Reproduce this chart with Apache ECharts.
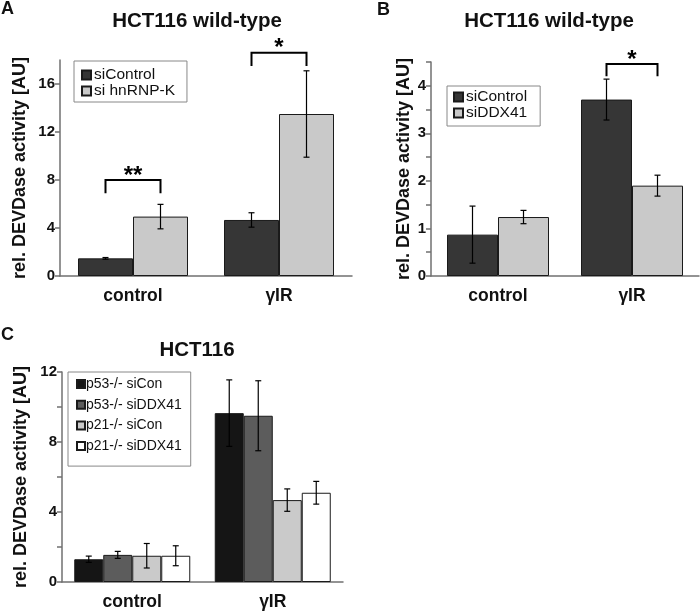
<!DOCTYPE html>
<html><head><meta charset="utf-8">
<script src="https://cdn.jsdelivr.net/npm/echarts@6/dist/echarts.min.js"></script>
<style>html,body{margin:0;padding:0;background:#fff}#c{width:700px;height:613px}</style>
</head><body><div id="c"></div>
<script>
// ---- data ----
const categories = ['control', 'γIR'];
// Panel A
const aSiControl = [1.47, 4.67];
const aSiControlErr = [0.07, 0.6];
const aHnRNPK = [4.95, 13.5];
const aHnRNPKErr = [1.02, 3.6];
const aSig = [[0, 8, 6.9, '**'], [1, 18.6, 17.5, '*']];
const aTicks = [0, 4, 8, 12, 16];
// Panel B
const bSiControl = [0.87, 3.71];
const bSiControlErr = [0.6, 0.43];
const bSiDDX41 = [1.24, 1.9];
const bSiDDX41Err = [0.14, 0.22];
const bSig = [[1, 4.46, 4.2, '*']];
const bTicks = [0, 0.5, 1, 1.5, 2, 2.5, 3, 3.5, 4, 4.5];
const bLabels = [0, 1, 2, 3, 4];
// Panel C
const cP53SiCon = [1.3, 9.65];
const cP53SiConErr = [0.18, 1.9];
const cP53SiDDX41 = [1.55, 9.5];
const cP53SiDDX41Err = [0.2, 2.0];
const cP21SiCon = [1.5, 4.68];
const cP21SiConErr = [0.7, 0.64];
const cP21SiDDX41 = [1.5, 5.1];
const cP21SiDDX41Err = [0.57, 0.65];
const cTicks = [0, 2, 4, 6, 8, 10, 12];
const cLabels = [0, 4, 8, 12];

const FONT = '"Liberation Sans", Arial, sans-serif';
const yName = 'rel. DEVDase activity [AU]';

function errData(sets) {
  const out = [];
  sets.forEach((s, si) => s[0].forEach((v, ci) => out.push([ci, v, s[1][ci], si])));
  return out;
}
function errSeries(idx, sets, barW) {
  const n = sets.length;
  return {
    type: 'custom', xAxisIndex: idx, yAxisIndex: idx, z: 10, silent: true,
    data: errData(sets),
    renderItem: function (params, api) {
      const c = api.value(0), m = api.value(1), e = api.value(2), s = api.value(3);
      const hi = api.coord([c, m + e]), lo = api.coord([c, m - e]);
      const x = hi[0] + (s - (n - 1) / 2) * barW;
      const st = { stroke: '#000', lineWidth: 1.2 };
      return { type: 'group', children: [
        { type: 'line', shape: { x1: x, y1: hi[1], x2: x, y2: lo[1] }, style: st },
        { type: 'line', shape: { x1: x - 3, y1: hi[1], x2: x + 3, y2: hi[1] }, style: st },
        { type: 'line', shape: { x1: x - 3, y1: lo[1], x2: x + 3, y2: lo[1] }, style: st }
      ]};
    }
  };
}
function sigSeries(idx, sig, barW) {
  return {
    type: 'custom', xAxisIndex: idx, yAxisIndex: idx, z: 10, silent: true, clip: false,
    data: sig,
    renderItem: function (params, api) {
      const c = api.value(0);
      const top = api.coord([c, api.value(1)]), leg = api.coord([c, api.value(2)]);
      const x1 = top[0] - barW / 2, x2 = top[0] + barW / 2;
      return { type: 'group', children: [
        { type: 'polyline', shape: { points: [[x1, leg[1]], [x1, top[1]], [x2, top[1]], [x2, leg[1]]] },
          style: { stroke: '#000', lineWidth: 2, fill: null } },
        { type: 'text', style: { text: sig[params.dataIndex][3], x: top[0], y: top[1] - 4,
          textAlign: 'center', textVerticalAlign: 'middle', font: 'bold 24px ' + FONT, fill: '#000' } }
      ]};
    }
  };
}
function bar(name, idx, data, color, w) {
  return { name: name, type: 'bar', xAxisIndex: idx, yAxisIndex: idx, data: data, barWidth: w, barGap: '0%',
    itemStyle: { color: color, borderColor: '#1a1a1a', borderWidth: 1 }, z: 2 };
}
function xAxis(idx) {
  return { type: 'category', gridIndex: idx, data: categories,
    axisLine: { lineStyle: { color: '#707070', width: 1.5 } }, axisTick: { show: false },
    axisLabel: { fontFamily: FONT, fontWeight: 'bold', fontSize: 17.5, color: '#111', margin: 11 } };
}
function yAxis(idx, max, ticks, labels, gap) {
  return { type: 'value', gridIndex: idx, min: 0, max: max,
    name: yName, nameLocation: 'middle', nameRotate: 90, nameGap: gap,
    nameTextStyle: { fontFamily: FONT, fontWeight: 'bold', fontSize: 18, color: '#111' },
    splitLine: { show: false },
    axisLine: { show: true, lineStyle: { color: '#707070', width: 1.5 } },
    axisTick: { show: true, length: 5, customValues: ticks, lineStyle: { color: '#707070', width: 1.5 } },
    axisLabel: { customValues: labels, fontFamily: FONT, fontWeight: 'bold', fontSize: 15, color: '#111', margin: 5 } };
}
function legend(data, left, top, gap, fontSize, iconW, padding, textPad) {
  return { data: data, orient: 'vertical', left: left, top: top, icon: 'rect',
    itemWidth: iconW, itemHeight: iconW, itemGap: gap,
    padding: padding, borderColor: '#888', borderWidth: 1, backgroundColor: '#fff', selectedMode: false,
    textStyle: { fontFamily: FONT, fontSize: fontSize, lineHeight: 16, color: '#111', padding: [0, 0, 0, textPad] } };
}
function textEl(text, x, y, size) {
  return { type: 'text', x: x, y: y, silent: true,
    style: { text: text, textAlign: 'center', textVerticalAlign: 'middle', font: 'bold ' + size + 'px ' + FONT, fill: '#111' } };
}

const chart = echarts.init(document.getElementById('c'));
chart.setOption({
  animation: false,
  graphic: [
    { type: 'text', left: 1, top: 0, style: { text: 'A', font: 'bold 18px ' + FONT, fill: '#111' } },
    { type: 'text', left: 377, top: 1, style: { text: 'B', font: 'bold 18px ' + FONT, fill: '#111' } },
    { type: 'text', left: 1, top: 326, style: { text: 'C', font: 'bold 18px ' + FONT, fill: '#111' } },
    textEl('HCT116 wild-type', 197, 21, 20.5),
    textEl('HCT116 wild-type', 549, 21, 20.5),
    textEl('HCT116', 197, 350, 20.5)
  ],
  grid: [
    { left: 60, top: 60, width: 292, height: 216 },
    { left: 431, top: 62, width: 268, height: 214 },
    { left: 62, top: 372, width: 281, height: 210 }
  ],
  xAxis: [xAxis(0), xAxis(1), xAxis(2)],
  yAxis: [yAxis(0, 18, aTicks, aTicks, 31), yAxis(1, 4.5, bTicks, bLabels, 18), yAxis(2, 12, cTicks, cLabels, 32)],
  legend: [
    legend(['siControl', 'si hnRNP-K'], 74, 61, 0, 15.5, 9, [6, 12, 3, 7], -2),
    legend(['siControl', 'siDDX41'], 447, 86, 0, 15.5, 9, [3, 13, 5, 6], -2),
    legend(['p53-/- siCon', 'p53-/- siDDX41', 'p21-/- siCon', 'p21-/- siDDX41'], 68, 372, 4.7, 14, 8, [4, 9, 12, 8], -4)
  ],
  series: [
    bar('siControl', 0, aSiControl, '#363636', 55),
    bar('si hnRNP-K', 0, aHnRNPK, '#c9c9c9', 55),
    errSeries(0, [[aSiControl, aSiControlErr], [aHnRNPK, aHnRNPKErr]], 55),
    sigSeries(0, aSig, 55),
    bar('siControl', 1, bSiControl, '#363636', 51),
    bar('siDDX41', 1, bSiDDX41, '#c9c9c9', 51),
    errSeries(1, [[bSiControl, bSiControlErr], [bSiDDX41, bSiDDX41Err]], 51),
    sigSeries(1, bSig, 51),
    bar('p53-/- siCon', 2, cP53SiCon, '#151515', 29),
    bar('p53-/- siDDX41', 2, cP53SiDDX41, '#5c5c5c', 29),
    bar('p21-/- siCon', 2, cP21SiCon, '#cacaca', 29),
    bar('p21-/- siDDX41', 2, cP21SiDDX41, '#ffffff', 29),
    errSeries(2, [[cP53SiCon, cP53SiConErr], [cP53SiDDX41, cP53SiDDX41Err], [cP21SiCon, cP21SiConErr], [cP21SiDDX41, cP21SiDDX41Err]], 29)
  ]
});
</script></body></html>
